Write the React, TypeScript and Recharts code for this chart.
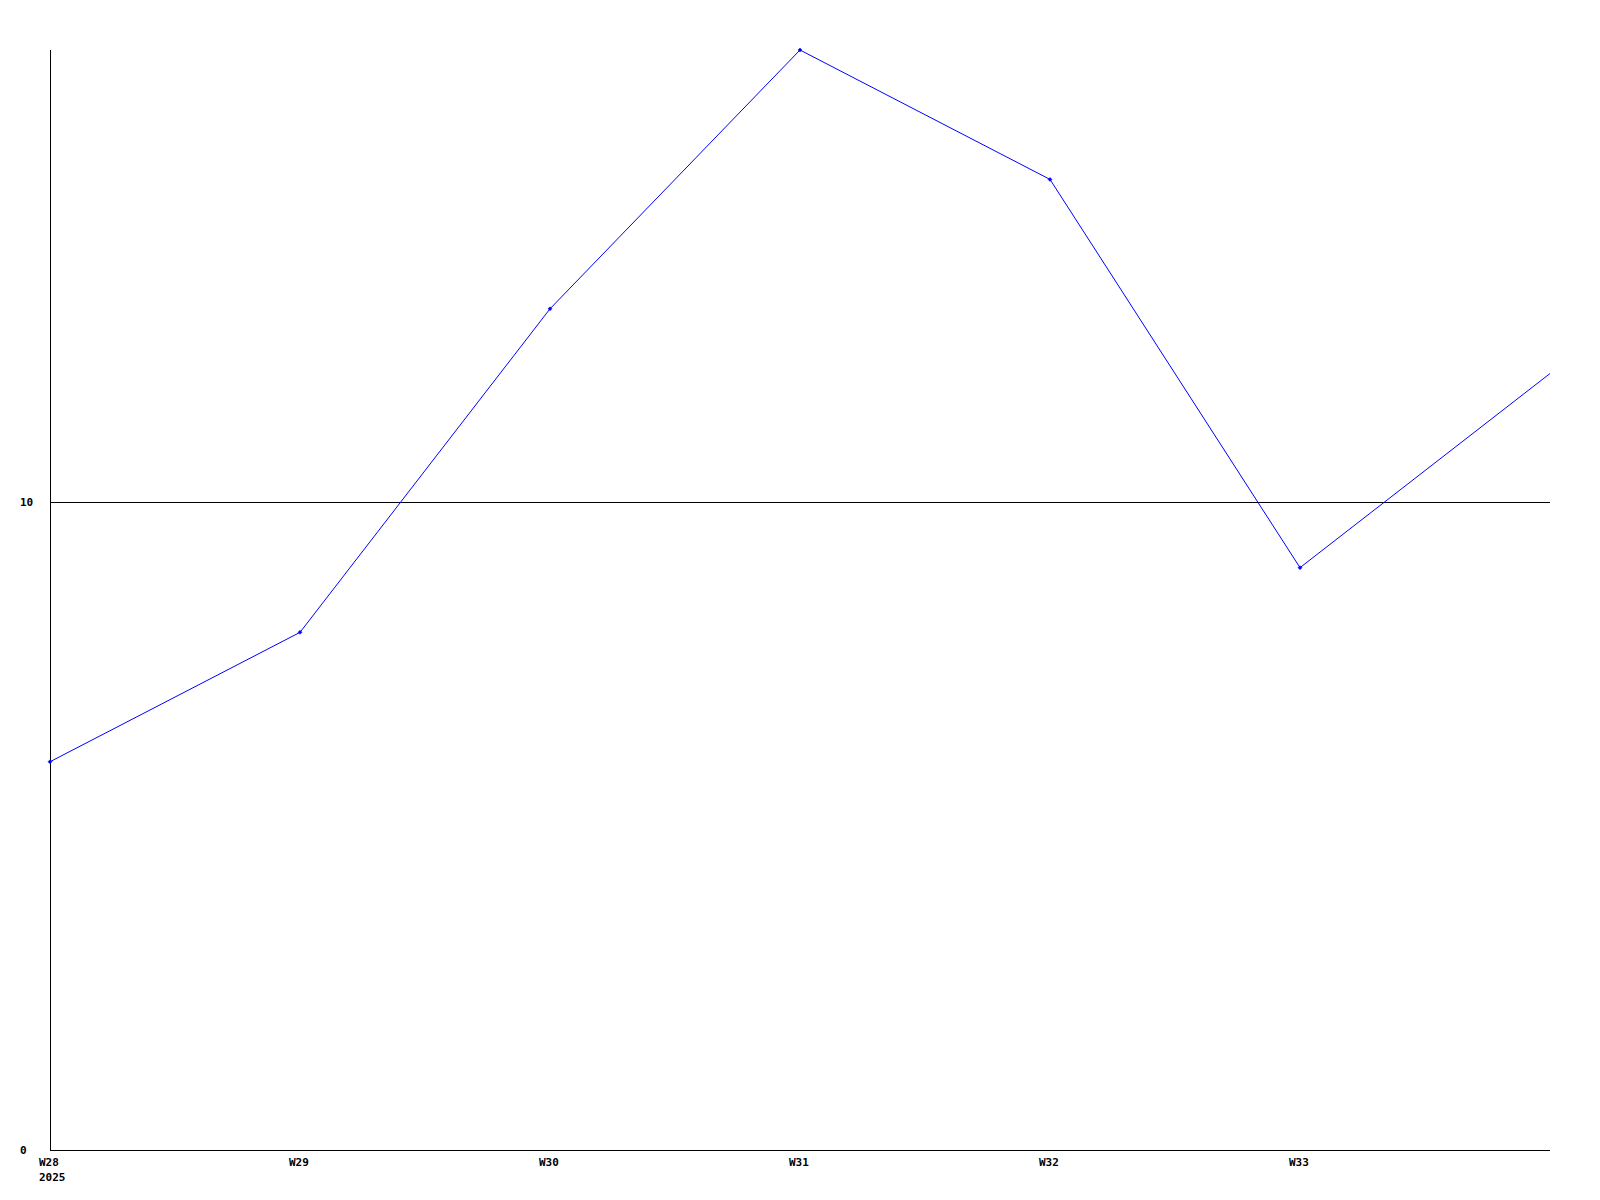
import { LineChart, Line, XAxis, YAxis, CartesianGrid } from 'recharts';

const weeks = ['W28', 'W29', 'W30', 'W31', 'W32', 'W33', 'W34'];
const values = [6, 8, 13, 17, 15, 9, 12];
const yTicks = [0, 10];
// the year is printed under the first week only; the last week carries no label
const yearLabels: Record<string, string> = { W28: '2025' };
const hiddenLabels = ['W34'];

const data = weeks.map((week, i) => ({ week, value: values[i] }));

const FONT = '"DejaVu Sans Mono", "Liberation Mono", monospace';

function XTick(props: any) {
  const { x, y, payload } = props;
  if (hiddenLabels.includes(payload.value)) return null;
  const year = yearLabels[payload.value];
  return (
    <g>
      <text x={x - 11} y={y + 4} textAnchor="start" dominantBaseline="central"
        fontFamily={FONT} fontWeight="bold" fontSize={11} fill="#000">
        {payload.value}
      </text>
      {year && (
        <text x={x - 11} y={y + 19} textAnchor="start" dominantBaseline="central"
          fontFamily={FONT} fontWeight="bold" fontSize={11} fill="#000">
          {year}
        </text>
      )}
    </g>
  );
}

function YTick(props: any) {
  const { y, payload } = props;
  return (
    <text x={20} y={y} textAnchor="start" dominantBaseline="central"
      fontFamily={FONT} fontWeight="bold" fontSize={11} fill="#000">
      {payload.value}
    </text>
  );
}

function Marker(props: any) {
  const { cx, cy, index } = props;
  if (index === weeks.length - 1) return <g key={index} />;
  return (
    <path key={index} d={`M${cx - 2},${cy} L${cx},${cy - 2} L${cx + 2},${cy} L${cx},${cy + 2} Z`}
      fill="#0000ff" stroke="#0000ff" strokeWidth={0.5} />
  );
}

export default function App() {
  return (
    <div style={{ width: 1600, height: 1200, background: '#fff' }}>
      <style>{'body { margin: 0; }'}</style>
      <LineChart width={1600} height={1200} data={data}
        margin={{ top: 50, right: 50, left: 0, bottom: 0 }}>
        <CartesianGrid vertical={false} stroke="#000" strokeWidth={1}
          horizontalValues={[10]} shapeRendering="crispEdges" />
        <XAxis dataKey="week" height={50} interval={0} tickLine={false}
          axisLine={{ stroke: '#000', strokeWidth: 1, shapeRendering: 'crispEdges' }} tick={<XTick />} />
        <YAxis width={50} domain={[0, 17]} ticks={yTicks} interval={0}
          tickLine={false} axisLine={{ stroke: '#000', strokeWidth: 1, shapeRendering: 'crispEdges' }}
          tick={<YTick />} />
        <Line type="linear" dataKey="value" stroke="#0000ff" strokeWidth={1}
          dot={<Marker />} activeDot={false} isAnimationActive={false} />
      </LineChart>
    </div>
  );
}
